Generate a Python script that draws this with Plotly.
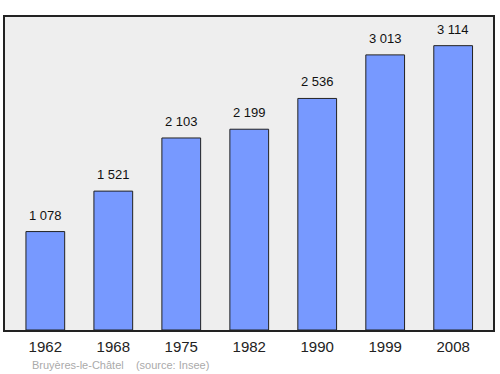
import plotly.graph_objects as go

years = ["1962", "1968", "1975", "1982", "1990", "1999", "2008"]
population = [1078, 1521, 2103, 2199, 2536, 3013, 3114]
labels = ["1 078", "1 521", "2 103", "2 199", "2 536", "3 013", "3 114"]

xs = list(range(len(years)))

fig = go.Figure()
fig.add_trace(go.Bar(
    x=xs, y=population, width=0.57,
    marker=dict(color="#7799ff", line=dict(color="#222222", width=1)),
    hoverinfo="skip",
))

for x, v, t in zip(xs, population, labels):
    fig.add_annotation(x=x, y=v, text=t, showarrow=False, yanchor="bottom",
                       yshift=7, font=dict(family="Liberation Sans, Arial", size=13, color="#111"))

fig.add_annotation(xref="paper", yref="paper", x=0.051, y=-0.085, xanchor="left", yanchor="top",
                   text="Bruyères-le-Châtel &nbsp;&nbsp; (source: Insee)", showarrow=False,
                   font=dict(family="Liberation Sans, Arial", size=11, color="#aaaaaa"))

fig.update_layout(
    width=500, height=374,
    margin=dict(l=5, r=5, t=17, b=44),
    paper_bgcolor="white", plot_bgcolor="#eeeeee",
    showlegend=False,
    xaxis=dict(range=[-0.593, 6.586], tickvals=xs, ticktext=years, showgrid=False, zeroline=False,
               showline=True, mirror=True, linecolor="#222", linewidth=1.5,
               ticks="outside", ticklen=2, tickcolor="rgba(0,0,0,0)",
               tickfont=dict(family="Liberation Sans, Arial", size=15, color="#222")),
    yaxis=dict(range=[0, 3428], showticklabels=False, showgrid=False, zeroline=False,
               showline=True, mirror=True, linecolor="#222", linewidth=1.5, ticks=""),
)

fig.write_html("out.html")
